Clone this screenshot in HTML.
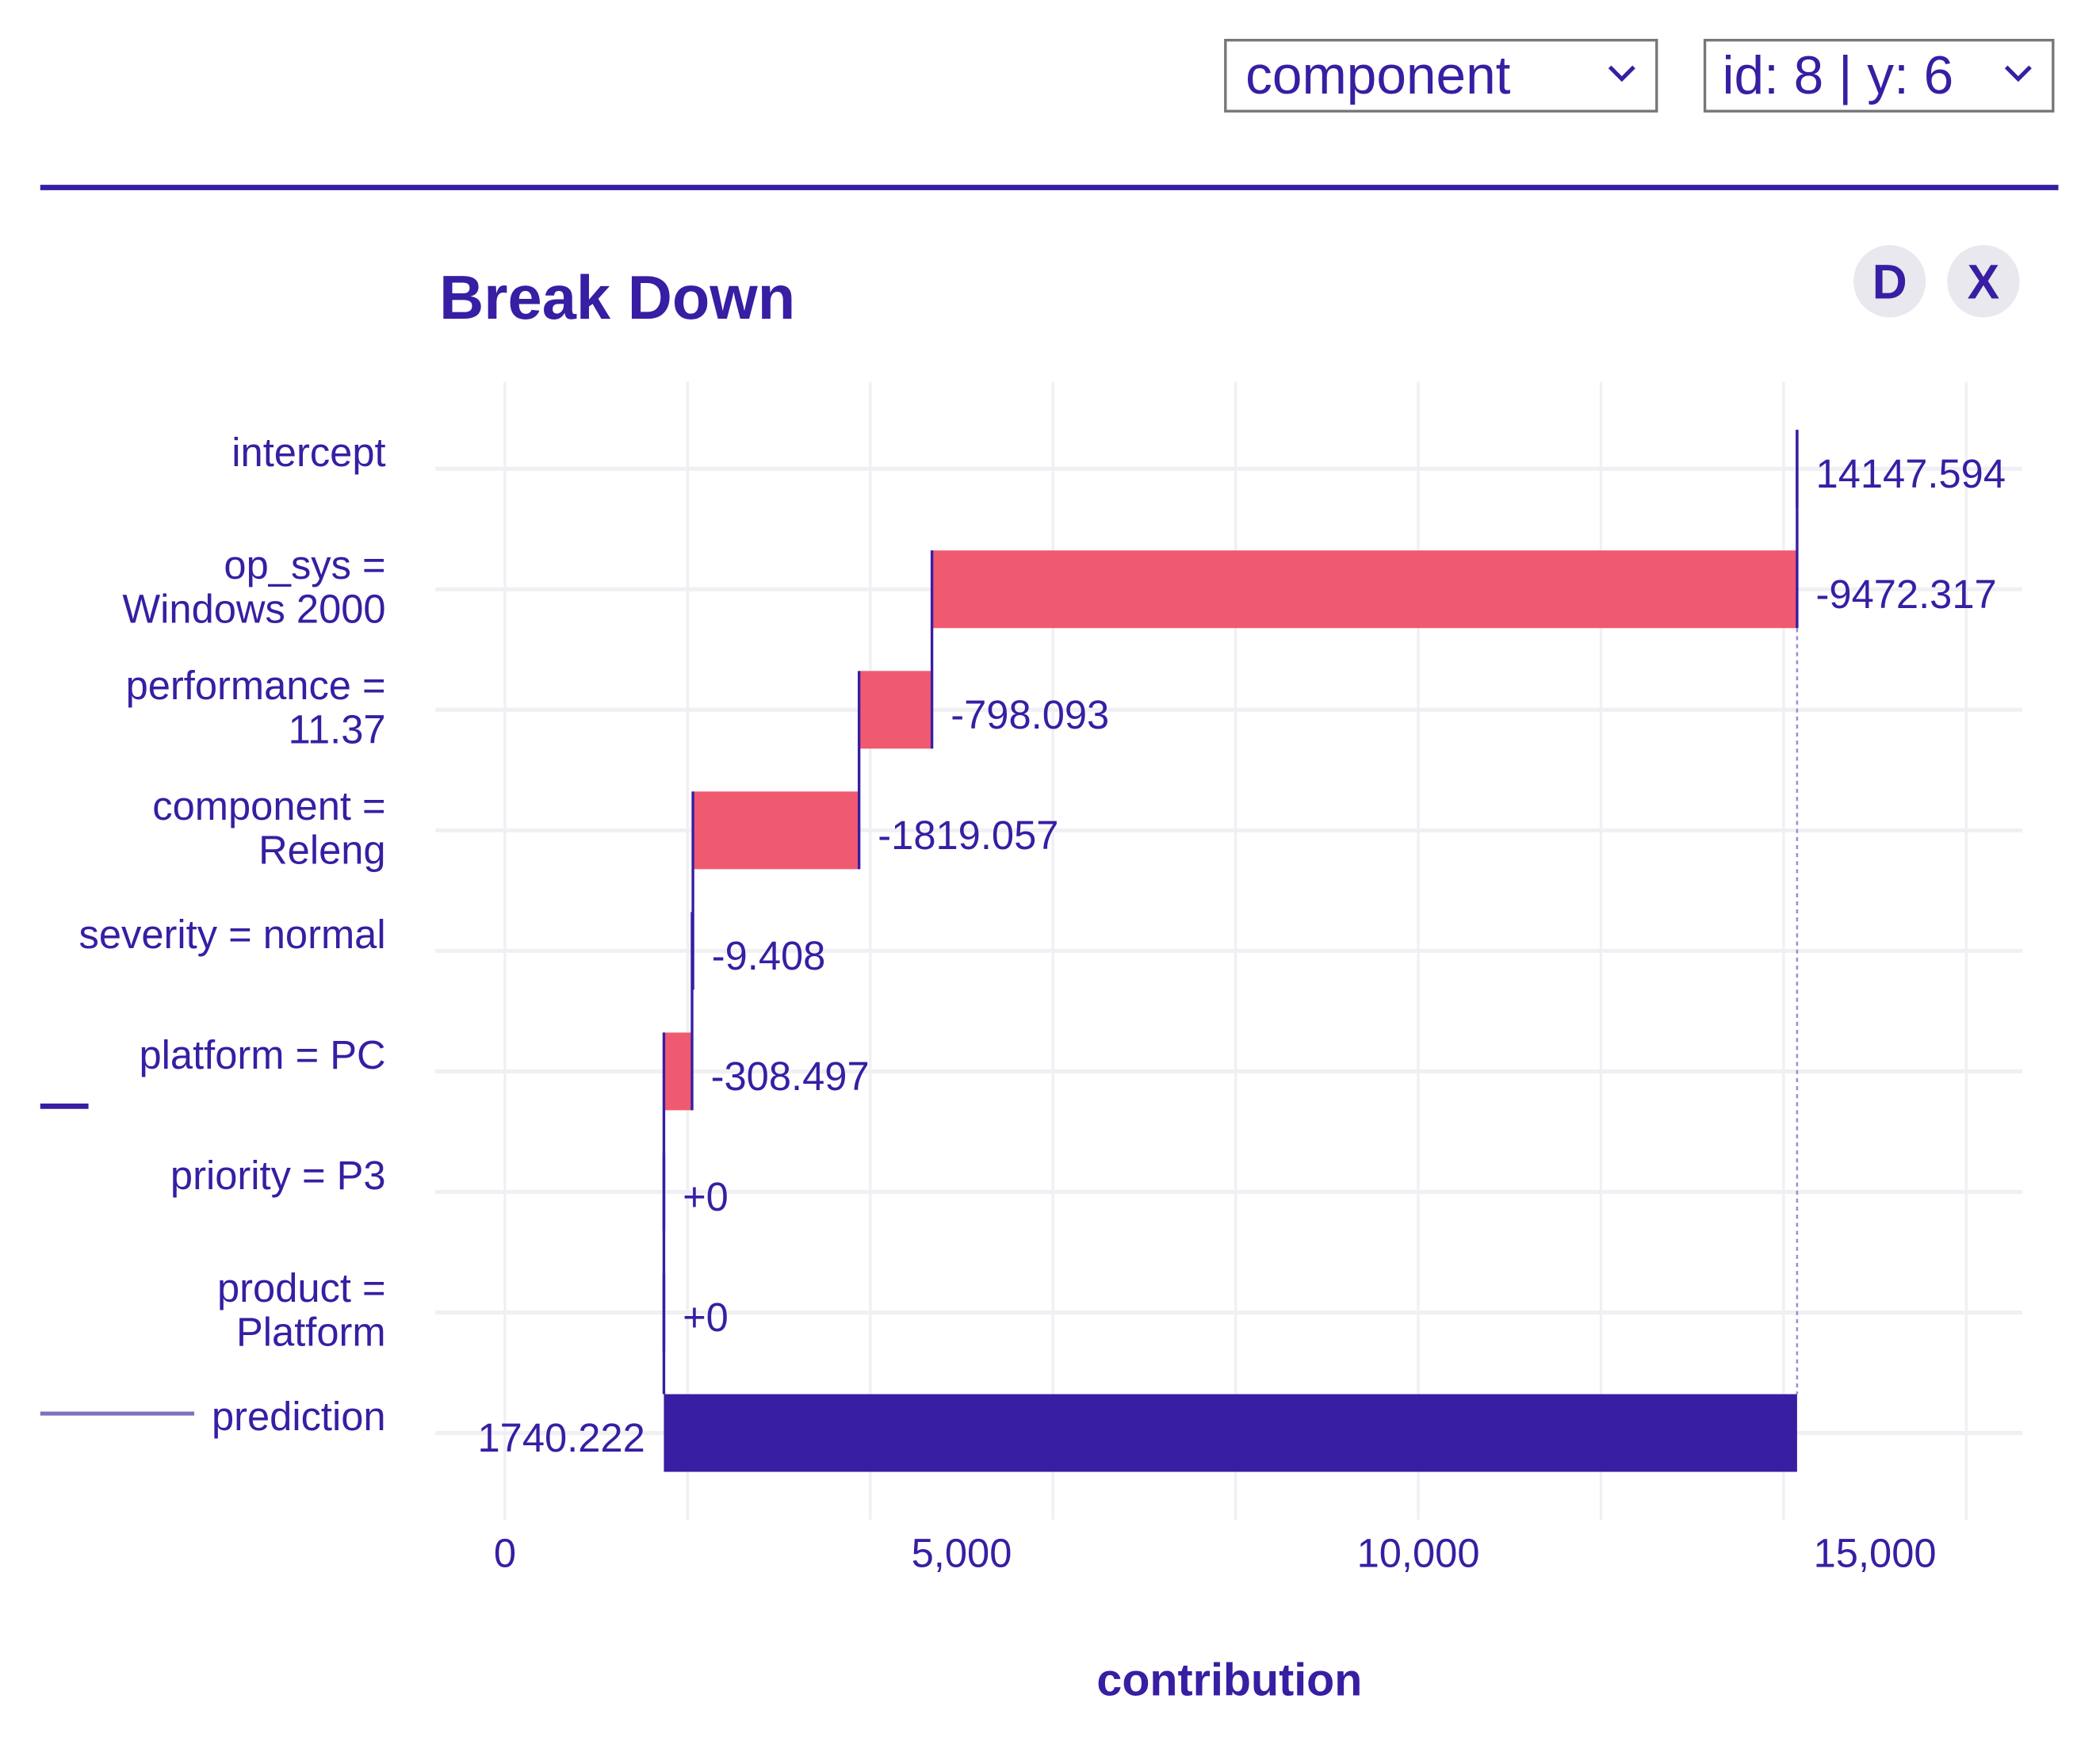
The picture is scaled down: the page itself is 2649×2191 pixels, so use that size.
<!DOCTYPE html>
<html><head><meta charset="utf-8"><style>
html,body{margin:0;padding:0;background:#fff;}
svg{display:block;}
text{font-family:"Liberation Sans Narrow","Liberation Sans",sans-serif;fill:#371ea3;}
</style></head><body>
<svg id="chart" width="2649" height="2191" viewBox="0 0 1568 1297">
  <g>
    <rect x="915" y="30" width="322" height="53" fill="#fff" stroke="#777" stroke-width="2"/>
    <text x="930" y="70" font-size="40" style="font-family:'Liberation Sans',sans-serif">component</text>
    <path d="M1202 50 l9 9 l9 -9" fill="none" stroke="#371ea3" stroke-width="3"/>
  </g>
  <g>
    <rect x="1273" y="30" width="260" height="53" fill="#fff" stroke="#777" stroke-width="2"/>
    <text x="1286" y="70" font-size="40" style="font-family:'Liberation Sans',sans-serif">id: 8 | y: 6</text>
    <path d="M1498 50 l9 9 l9 -9" fill="none" stroke="#371ea3" stroke-width="3"/>
  </g>
  <rect x="30" y="138" width="1507" height="4" fill="#371ea3"/>
  <text x="328" y="238" font-size="46" font-weight="bold">Break Down</text>
  <g><circle cx="1411" cy="210" r="27" fill="#e8e8ee"/><text x="1411" y="223" font-size="36" font-weight="bold" text-anchor="middle">D</text></g>
  <g><circle cx="1481" cy="210" r="27" fill="#e8e8ee"/><text x="1481" y="223" font-size="36" font-weight="bold" text-anchor="middle">X</text></g>
  <rect x="30" y="824" width="36" height="4" fill="#371ea3"/>
  <rect x="30" y="1054" width="115" height="3" fill="#8070c0"/>
  <g id="plot"></g>
</svg>
<script>
const labels1 = ["intercept","op_sys =","performance =","component =","severity = normal","platform = PC","priority = P3","product =","prediction"];
const labels2 = ["","Windows 2000","11.37","Releng","","","","Platform",""];
const contributions = [14147.594,-9472.317,-798.093,-1819.057,-9.408,-308.497,0,0];
const valueLabels = ["14147.594","-9472.317","-798.093","-1819.057","-9.408","-308.497","+0","+0","1740.222"];
const ticks = [0,5000,10000,15000];
const tickLabels = ["0","5,000","10,000","15,000"];
const gridVals = [0,2000,4000,6000,8000,10000,12000,14000,16000];

const NS="http://www.w3.org/2000/svg";
const plot=document.getElementById('plot');
const x=v=>377+v*0.0682;
const y=i=>350+i*90;
function mk(tag,attrs,parent){const e=document.createElementNS(NS,tag);for(const k in attrs)e.setAttribute(k,attrs[k]);(parent||plot).appendChild(e);return e;}

gridVals.forEach(g=>{const l=mk('line',{x1:x(g),x2:x(g),y1:285,y2:1135,stroke:'#f0f0f4','stroke-width':2});

});
labels1.forEach((_,i)=>{const l=mk('line',{x1:325,x2:1510,y1:y(i),y2:y(i),stroke:'#f0f0f4','stroke-width':3});

});

let cum=0; const ends=[];
contributions.forEach((v,i)=>{
  const start=cum, end=cum+v; cum=end; ends.push(end);
  if(i===0){
    const r=mk('rect',{x:x(v)-1,y:y(i)-29,width:2,height:58,fill:'#371ea3'});
    
    
  } else if(v!==0 && Math.abs(x(end)-x(start))>2){
    const r=mk('rect',{x:Math.min(x(start),x(end)),y:y(i)-29,width:Math.abs(x(end)-x(start)),height:58,fill:'#f05a71'});
    
    
  }
  if(i>0){
    const c=mk('line',{x1:x(start),x2:x(start),y1:y(i-1)-29,y2:y(i)+29,stroke:'#371ea3','stroke-width':2});
    
    
  }
});
const pred=cum;
const lastC=mk('line',{x1:x(pred),x2:x(pred),y1:y(7)-29,y2:y(8)-29,stroke:'#371ea3','stroke-width':2});


const dot=mk('line',{x1:x(contributions[0]),x2:x(contributions[0]),y1:y(1)+29,y2:y(8)-29,stroke:'#9a90d0','stroke-width':1.5,'stroke-dasharray':'3,3'});


const pb=mk('rect',{x:x(pred),y:y(8)-29,width:x(contributions[0])-x(pred),height:58,fill:'#371ea3'});



labels1.forEach((t,i)=>{
  const two=labels2[i]!=="";
  const a=mk('text',{x:288,y:two?y(i)-8:y(i)-2,'font-size':30,'text-anchor':'end'});a.textContent=t;
  
  
  if(two){const b=mk('text',{x:288,y:y(i)+25,'font-size':30,'text-anchor':'end'});b.textContent=labels2[i];
  
  }
});
valueLabels.forEach((t,i)=>{
  let tx, anchor='start';
  if(i===0) tx=x(contributions[0])+14;
  else if(i===8){tx=x(pred)-14;anchor='end';}
  else tx=Math.max(x(ends[i-1]),x(ends[i]))+14;
  const e=mk('text',{x:tx,y:y(i)+14,'font-size':30,'text-anchor':anchor});e.textContent=t;
  
  
});
ticks.forEach((tk,i)=>{const e=mk('text',{x:x(tk),y:1170,'font-size':30,'text-anchor':'middle'});e.textContent=tickLabels[i];

});
const at=mk('text',{x:918,y:1266,'font-size':34,'font-weight':'bold','text-anchor':'middle'});at.textContent='contribution';


</script>
</body></html>
